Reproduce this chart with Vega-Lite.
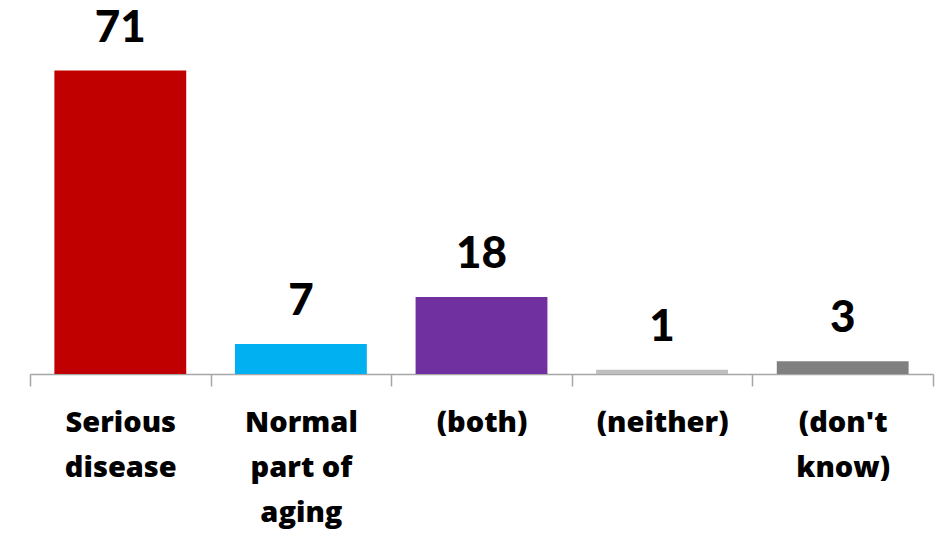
{
  "$schema": "https://vega.github.io/schema/vega-lite/v6.json",
  "width": 903,
  "height": 374,
  "autosize": "none",
  "padding": {"left": 30, "top": 0, "right": 7, "bottom": 159},
  "background": "white",
  "config": {"view": {"stroke": null}},
  "data": {
    "values": [
      {"category": "Serious|disease", "value": 71},
      {"category": "Normal|part of|aging", "value": 7},
      {"category": "(both)", "value": 18},
      {"category": "(neither)", "value": 1},
      {"category": "(don't|know)", "value": 3}
    ]
  },
  "encoding": {
    "x": {
      "field": "category",
      "type": "nominal",
      "sort": null,
      "scale": {"paddingInner": 0, "paddingOuter": 0},
      "axis": {
        "title": null,
        "labelAngle": 0,
        "labelExpr": "split(datum.label, '|')",
        "labelFont": "Open Sans",
        "labelFontSize": 29,
        "labelFontWeight": 800,
        "labelColor": "black",
        "labelLineHeight": 45,
        "labelPadding": 22,
        "labelBaseline": "top",
        "domainColor": "#A6A6A6",
        "domainWidth": 1.5,
        "tickColor": "#A6A6A6",
        "tickWidth": 1.5,
        "tickSize": 12,
        "tickBand": "extent"
      }
    },
    "y": {
      "field": "value",
      "type": "quantitative",
      "scale": {"domain": [0, 87.5]},
      "axis": null
    }
  },
  "layer": [
    {
      "mark": {"type": "bar", "width": {"band": 0.73}},
      "encoding": {
        "color": {
          "field": "category",
          "type": "nominal",
          "sort": null,
          "scale": {
            "domain": ["Serious|disease", "Normal|part of|aging", "(both)", "(neither)", "(don't|know)"],
            "range": ["#C00000", "#00B0F0", "#7030A0", "#BFBFBF", "#808080"]
          },
          "legend": null
        }
      }
    },
    {
      "mark": {"type": "text", "baseline": "alphabetic", "dy": -29, "font": "Lato", "fontSize": 44, "fontWeight": 900, "color": "black"},
      "encoding": {"text": {"field": "value", "type": "quantitative"}}
    }
  ]
}
